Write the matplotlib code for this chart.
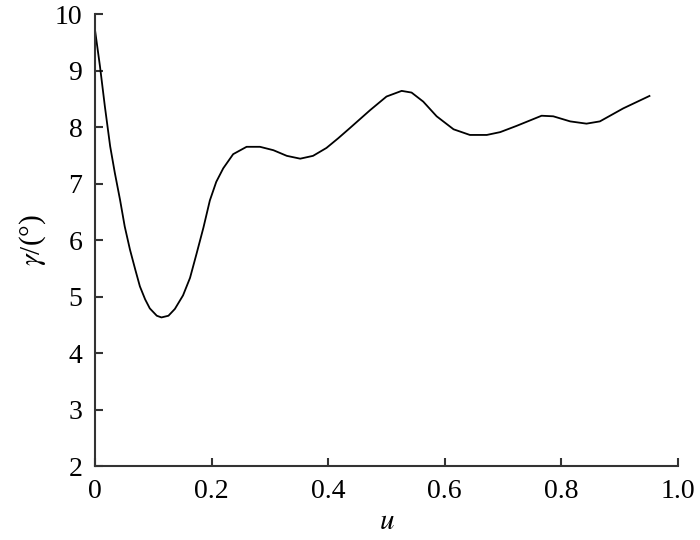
import matplotlib
matplotlib.use('Agg')
import matplotlib.pyplot as plt

u = [0, 0.0086, 0.017, 0.026, 0.034, 0.043, 0.051, 0.06, 0.069, 0.077, 0.086,
     0.094, 0.106, 0.114, 0.126, 0.137, 0.151, 0.163, 0.174, 0.186, 0.197,
     0.208, 0.22, 0.237, 0.26, 0.283, 0.306, 0.329, 0.352, 0.374, 0.397,
     0.417, 0.437, 0.472, 0.50, 0.526, 0.543, 0.563, 0.586, 0.615, 0.643,
     0.672, 0.695, 0.723, 0.766, 0.786, 0.815, 0.843, 0.866, 0.906, 0.951]
gamma = [9.72, 9.07, 8.36, 7.66, 7.19, 6.71, 6.24, 5.83, 5.48, 5.18, 4.95,
         4.79, 4.66, 4.63, 4.66, 4.78, 5.02, 5.33, 5.75, 6.22, 6.70,
         7.03, 7.27, 7.52, 7.65, 7.65, 7.59, 7.49, 7.44, 7.49, 7.63,
         7.80, 7.98, 8.30, 8.54, 8.64, 8.61, 8.45, 8.19, 7.96, 7.86,
         7.86, 7.91, 8.02, 8.20, 8.19, 8.10, 8.06, 8.10, 8.33, 8.55]

xticks = [0, 0.2, 0.4, 0.6, 0.8, 1.0]
xticklabels = ['0', '0.2', '0.4', '0.6', '0.8', '1.0']
yticks = [2, 3, 4, 5, 6, 7, 8, 9, 10]

plt.rcParams['font.family'] = ['Liberation Serif', 'DejaVu Serif']
plt.rcParams['mathtext.fontset'] = 'stix'

fig = plt.figure(figsize=(7, 5.4), dpi=100)
ax = fig.add_axes([0.1357, 0.137, 0.8329, 0.837])
ax.plot(u, gamma, color='black', lw=1.3, solid_joinstyle='round')

ax.set_xlim(0, 1.0)
ax.set_ylim(2, 10)
ax.set_xticks(xticks)
ax.set_xticklabels(xticklabels)
ax.set_yticks(yticks)

for s in ['top', 'right']:
    ax.spines[s].set_visible(False)
for s in ['left', 'bottom']:
    ax.spines[s].set_color('#333333')
    ax.spines[s].set_linewidth(1.5)

ax.tick_params(direction='in', length=6, width=1.5, color='#333333',
               labelsize=20, pad=9)

ax.set_xlabel(r'$u$', fontsize=21, labelpad=4)
ax.set_ylabel(r'$\gamma$/(°)', fontsize=21, labelpad=5)

fig.savefig('out.png', dpi=100)
